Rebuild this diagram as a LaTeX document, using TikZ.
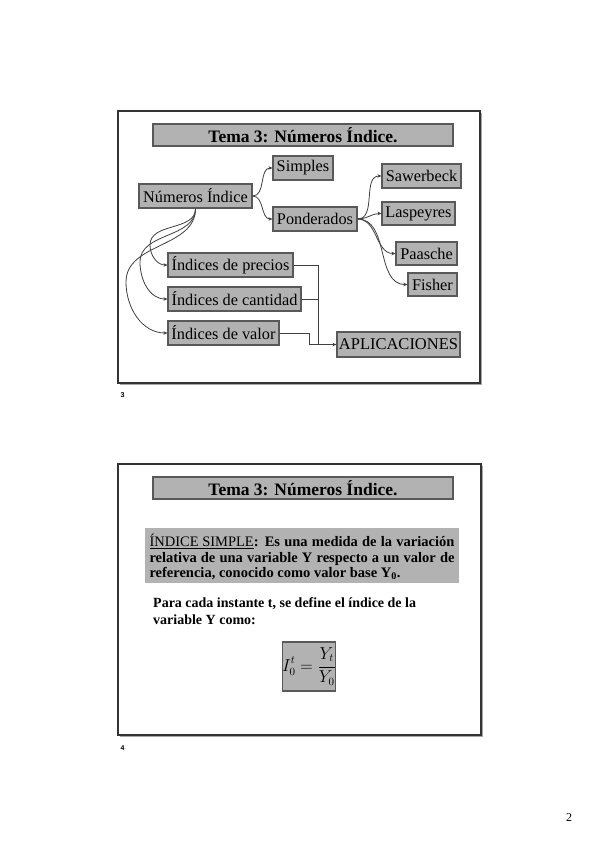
\documentclass[tikz,border=0pt]{standalone}
\usepackage{fontspec}
\setmainfont{Liberation Serif}
\setsansfont{Liberation Sans}
\usetikzlibrary{arrows.meta}
\begin{document}
\begin{tikzpicture}[x=1pt,y=-1pt,
  frame/.style={draw=black!80,line width=1.3pt,fill=white},
  box/.style={draw=black!65,line width=1.1pt,fill=black!30,inner sep=0pt,font=\fontsize{16.3}{18}\selectfont},
  conn/.style={draw=black!75,line width=0.8pt},
  arr/.style={conn,-{Stealth[length=4pt,width=3.5pt]}},
  slidenum/.style={font=\sffamily\bfseries\fontsize{7}{8}\selectfont,anchor=west}]
\useasboundingbox (0,0) rectangle (599,848);
\fill[white] (0,0) rectangle (599,848);

% ---------- slide 3 ----------
\fill[black!35] (120,113) rectangle (482,385);
\draw[frame] (118,111) rectangle (480,383);
\node[box,minimum width=300,minimum height=22,font=\bfseries\fontsize{17.5}{19}\selectfont] (t1) at (303,135) {Tema 3: Números Índice.};

\node[box,minimum width=113,minimum height=24] (ni) at (195.5,196) {Números Índice};
\node[box,minimum width=60,minimum height=24] (simp) at (303,168) {Simples};
\node[box,minimum width=84,minimum height=24] (pond) at (315,219) {Ponderados};
\node[box,minimum width=79,minimum height=24] (saw) at (421.5,176) {Sawerbeck};
\node[box,minimum width=73,minimum height=23] (las) at (418.5,213.5) {Laspeyres};
\node[box,minimum width=61,minimum height=23] (paa) at (426.5,253.5) {Paasche};
\node[box,minimum width=49,minimum height=23] (fis) at (432.5,284.5) {Fisher};
\node[box,minimum width=125,minimum height=24] (prec) at (230.5,265) {Índices de precios};
\node[box,minimum width=133,minimum height=24] (cant) at (234.5,299) {Índices de cantidad};
\node[box,minimum width=111,minimum height=24] (val) at (223.5,333) {Índices de valor};
\node[box,minimum width=123,minimum height=25,font=\fontsize{16.5}{18}\selectfont] (apl) at (398.5,344.5) {APLICACIONES};

\draw[arr] (ni.east) to[out=0,in=180] (simp.west);
\draw[arr] (ni.east) to[out=0,in=180] (pond.west);
\draw[arr] (pond.east) to[out=0,in=180] (saw.west);
\draw[arr] (pond.east) to[out=0,in=180] (las.west);
\draw[arr] (pond.east) to[out=0,in=180] (paa.west);
\draw[arr] (pond.east) to[out=0,in=180] (fis.west);

\coordinate (c1) at (150,245);
\coordinate (c2) at (140,262);
\coordinate (c3) at (126,282);
\draw[arr] (ni.south) to[out=-90,in=90] (c1) to[out=-90,in=180] (prec.west);
\draw[arr] (ni.south) to[out=-90,in=90] (c2) to[out=-90,in=180] (cant.west);
\draw[arr] (ni.south) to[out=-90,in=90] (c3) to[out=-90,in=180] (val.west);

\coordinate (j1) at (318,344.5);
\coordinate (j2) at (309,344.5);
\draw[conn] (prec.east) -| (j1);
\draw[conn] (cant.east) -| (j1);
\draw[conn] (val.east) -| (j2);
\draw[arr] (j2) -- (apl.west);

\node[slidenum] (n3) at (117,395) {3};

% ---------- slide 4 ----------
\fill[black!35] (120,466) rectangle (483,737);
\draw[frame] (118,464) rectangle (481,735);
\node[box,minimum width=300,minimum height=22,font=\bfseries\fontsize{17.5}{19}\selectfont] (t2) at (303,488) {Tema 3: Números Índice.};

\node[fill=black!30,minimum width=314,minimum height=55,inner sep=0pt] (def) at (302,555.5) {};
\node[text width=305,align=justify,inner sep=0pt,font=\bfseries\fontsize{14.5}{15.5}\selectfont] (deftext) at (302,557)
  {{\mdseries\underline{ÍNDICE SIMPLE}}: Es una medida de la variación relativa de una variable Y respecto a un valor de referencia, conocido como valor base Y$_{\mathbf 0}$.};

\node[anchor=north west,align=left,inner sep=0pt,font=\bfseries\fontsize{14}{17}\selectfont] (para) at (153,597)
  {Para cada instante t, se define el índice de la\\variable Y como:};

\node[box,minimum width=50,minimum height=49] (form) at (309,666.5)
  {$\displaystyle I_0^t=\frac{Y_t}{Y_0}$};

\node[slidenum] (n4) at (117,748) {4};

\node[font=\fontsize{12}{14}\selectfont] (pg) at (569,818) {2};
\end{tikzpicture}
\end{document}
